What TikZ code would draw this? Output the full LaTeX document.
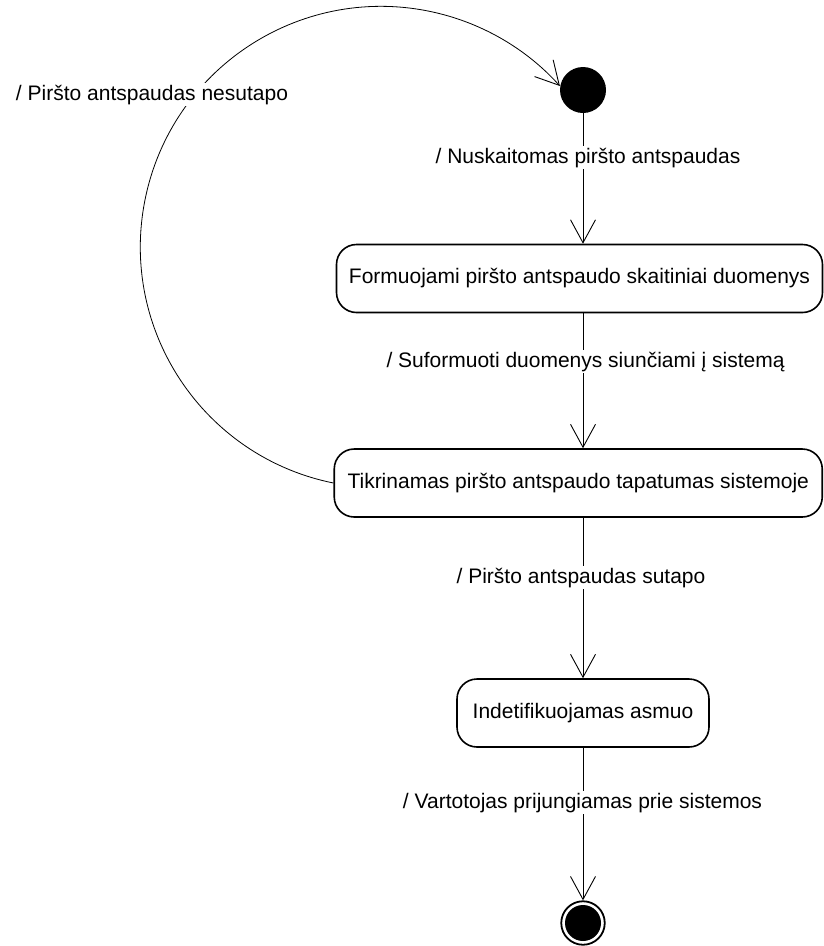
\documentclass[tikz,border=0pt]{standalone}
\usepackage{fontspec}
\setmainfont{Liberation Sans}
\usetikzlibrary{arrows.meta}
\begin{document}
\begin{tikzpicture}[x=1pt,y=-1pt,
  txt/.style={font=\fontsize{21}{25}\selectfont},
  state/.style={txt, draw, line width=1.6pt, rounded corners=20pt,
    minimum height=68pt, inner sep=0pt},
  lbl/.style={txt, fill=white, inner sep=2pt, anchor=base},
  flow/.style={line width=0.9pt,
    -{Straight Barb[length=23pt,width=25pt,line width=0.9pt]}},
]
\useasboundingbox (0,0) rectangle (824,946);

% states
\node[circle, fill=black, minimum size=46pt, inner sep=0pt] (init) at (583,90) {};
\node[state, minimum width=486pt] (form) at (579.5,278.5)
  {Formuojami piršto antspaudo skaitiniai duomenys};
\node[state, minimum width=488pt] (check) at (578.25,483)
  {Tikrinamas piršto antspaudo tapatumas sistemoje};
\node[state, minimum width=252pt] (ident) at (583,713) {Indetifikuojamas asmuo};
\node[circle, draw, line width=1.8pt, minimum size=43.5pt, inner sep=0pt] (fin) at (583,923) {};
\node[circle, fill=black, minimum size=36pt, inner sep=0pt] (fincore) at (fin) {};

% transitions
\draw[flow] (init.south) -- (init.south |- form.north);
\draw[flow] (form.south -| init) -- (check.north -| init);
\draw[flow] (check.south -| init) -- (ident.north);
\draw[flow] (ident.south) -- (fin.north);
\draw[flow, line width=0.8pt] (check.west) arc[start angle=101.4, end angle=318, radius=240.7];

% transition labels
\node[lbl] (l0) at (152,100) {/ Piršto antspaudas nesutapo};
\node[lbl] (l1) at (588,163) {/ Nuskaitomas piršto antspaudas};
\node[lbl] (l2) at (585.5,367) {/ Suformuoti duomenys siunčiami į sistemą};
\node[lbl] (l3) at (581,583) {/ Piršto antspaudas sutapo};
\node[lbl] (l4) at (582.5,808) {/ Vartotojas prijungiamas prie sistemos};
\end{tikzpicture}
\end{document}
